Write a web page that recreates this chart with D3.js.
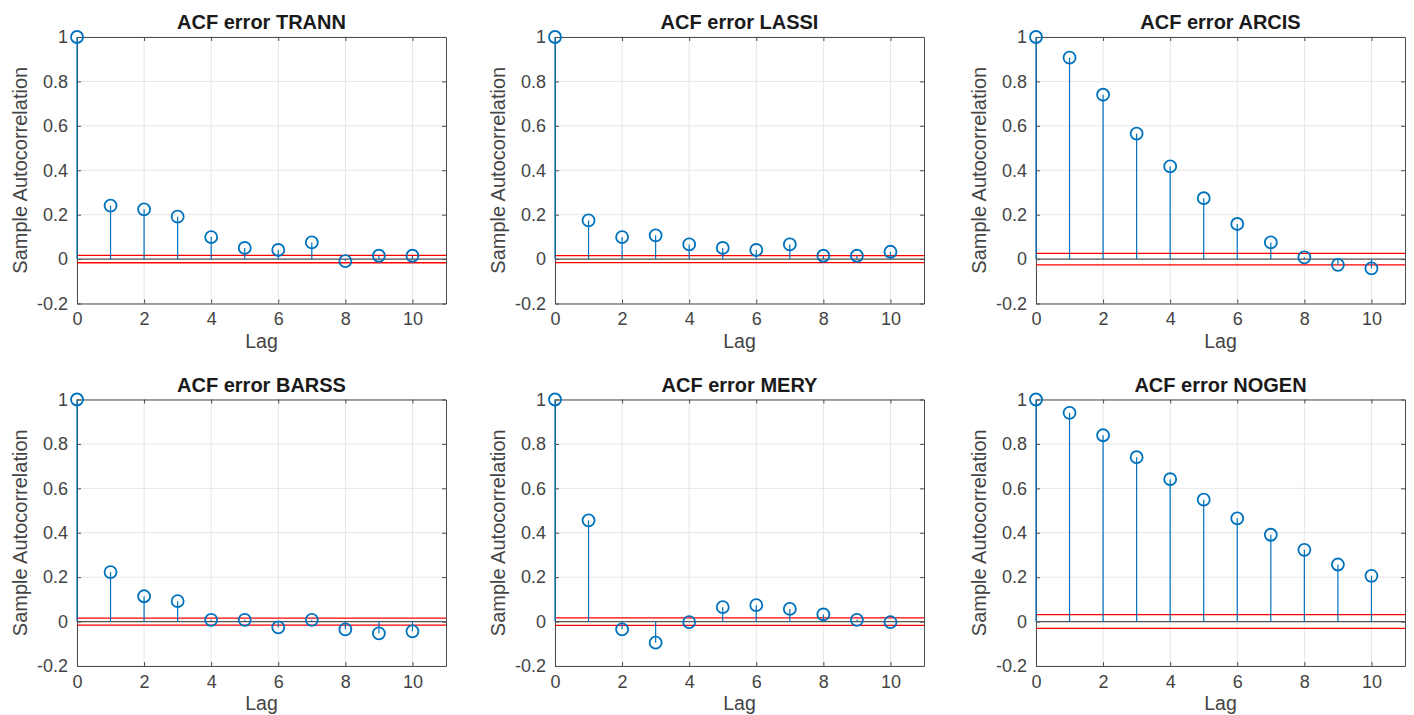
<!DOCTYPE html>
<html>
<head>
<meta charset="utf-8">
<script src="https://cdn.jsdelivr.net/npm/d3@7"></script>
<style>
  body { margin: 0; background: #fff; }
  svg { display: block; font-family: "Liberation Sans", Arial, sans-serif; }
</style>
</head>
<body>
<svg id="chart" width="1414" height="715"></svg>
<script>
// lags shown on every panel
var lags = [0, 1, 2, 3, 4, 5, 6, 7, 8, 9, 10];

// sample autocorrelation
var acfTRANN = [1, 0.241, 0.224, 0.191, 0.099, 0.050, 0.041, 0.075, -0.009, 0.015, 0.015];
var acfLASSI = [1, 0.174, 0.099, 0.107, 0.066, 0.050, 0.041, 0.066, 0.015, 0.015, 0.033];
var acfARCIS = [1, 0.907, 0.740, 0.565, 0.417, 0.274, 0.158, 0.075, 0.008, -0.026, -0.042];
var acfBARSS = [1, 0.223, 0.114, 0.092, 0.008, 0.008, -0.026, 0.008, -0.035, -0.053, -0.044];
var acfMERY  = [1, 0.456, -0.035, -0.095, -0.002, 0.065, 0.074, 0.057, 0.032, 0.008, -0.002];
var acfNOGEN = [1, 0.940, 0.839, 0.740, 0.641, 0.549, 0.465, 0.391, 0.323, 0.257, 0.206];

// confidence bound (+/-) for each panel
var bounds = [0.0165, 0.016, 0.026, 0.016, 0.017, 0.031];
var names = ["TRANN", "LASSI", "ARCIS", "BARSS", "MERY", "NOGEN"];
var series = [acfTRANN, acfLASSI, acfARCIS, acfBARSS, acfMERY, acfNOGEN];

// tick labels
var xTicks = [0, 2, 4, 6, 8, 10];
var yTicks = [-0.2, 0, 0.2, 0.4, 0.6, 0.8, 1];

var svg = d3.select("#chart");

var panelLeft = [77, 555, 1036];
var panelTop = [37, 399.5];
var width = 369, height = 266.5;

var blue = "#0072bd";
var fmt = function(d) { return String(+d.toFixed(1)); };

names.forEach(function(name, i) {
    var col = i % 3, row = Math.floor(i / 3);
    var vals = series[i];
    var data = lags.map(function(l, j) { return {lag: l, v: vals[j]}; });

    var g = svg.append("g")
        .attr("transform", `translate(${panelLeft[col]},${panelTop[row]})`);

    var x = d3.scaleLinear().domain([0, 11]).range([0, width]);
    var y = d3.scaleLinear().domain([-0.2, 1]).range([height, 0]);

    // grid
    g.append("g").selectAll("line").data(xTicks).join("line")
        .attr("x1", d => x(d)).attr("x2", d => x(d))
        .attr("y1", 0).attr("y2", height)
        .attr("stroke", "#e6e6e6");
    g.append("g").selectAll("line").data(yTicks).join("line")
        .attr("x1", 0).attr("x2", width)
        .attr("y1", d => y(d)).attr("y2", d => y(d))
        .attr("stroke", "#e6e6e6");

    // axes, ticks inside on all four sides
    var axisStyle = function(sel) {
        sel.select(".domain").attr("stroke", "#4d4d4d");
        sel.selectAll(".tick line").attr("stroke", "#4d4d4d");
        sel.selectAll("text").attr("fill", "#444").attr("font-size", 18);
    };
    g.append("g").attr("transform", `translate(0,${height})`)
        .call(d3.axisBottom(x).tickValues(xTicks).tickSize(-4).tickSizeOuter(0).tickPadding(9).tickFormat(fmt))
        .call(axisStyle);
    g.append("g")
        .call(d3.axisLeft(y).tickValues(yTicks).tickSize(-4).tickSizeOuter(0).tickPadding(9).tickFormat(fmt))
        .call(axisStyle);
    g.append("g")
        .call(d3.axisTop(x).tickValues(xTicks).tickSize(-4).tickSizeOuter(0).tickFormat(""))
        .call(axisStyle);
    g.append("g").attr("transform", `translate(${width},0)`)
        .call(d3.axisRight(y).tickValues(yTicks).tickSize(-4).tickSizeOuter(0).tickFormat(""))
        .call(axisStyle);

    // zero line and confidence bounds
    g.append("line")
        .attr("x1", 0).attr("x2", width)
        .attr("y1", y(0)).attr("y2", y(0))
        .attr("stroke", "#555").attr("stroke-width", 1.2);
    [bounds[i], -bounds[i]].forEach(function(b) {
        g.append("line")
            .attr("x1", 0).attr("x2", width)
            .attr("y1", y(b)).attr("y2", y(b))
            .attr("stroke", "#ff0000").attr("stroke-width", 1.3);
    });

    // stems
    g.append("g").selectAll("line").data(data).join("line")
        .attr("x1", d => x(d.lag)).attr("x2", d => x(d.lag))
        .attr("y1", y(0)).attr("y2", d => y(d.v))
        .attr("stroke", blue).attr("stroke-width", 1.2);

    // markers
    g.append("g").selectAll("circle").data(data).join("circle")
        .attr("cx", d => x(d.lag)).attr("cy", d => y(d.v))
        .attr("r", 6)
        .attr("fill", "none")
        .attr("stroke", blue).attr("stroke-width", 1.8);

    // labels
    g.append("text")
        .attr("x", width / 2).attr("y", -8)
        .attr("text-anchor", "middle")
        .attr("font-size", 20).attr("font-weight", "bold")
        .attr("fill", "#1a1a1a")
        .text("ACF error " + name);
    g.append("text")
        .attr("x", width / 2).attr("y", height + 44)
        .attr("text-anchor", "middle")
        .attr("font-size", 19.5)
        .attr("fill", "#444")
        .text("Lag");
    g.append("text")
        .attr("transform", `translate(-50,${height / 2}) rotate(-90)`)
        .attr("text-anchor", "middle")
        .attr("font-size", 20)
        .attr("fill", "#444")
        .text("Sample Autocorrelation");
});
</script>
</body>
</html>
